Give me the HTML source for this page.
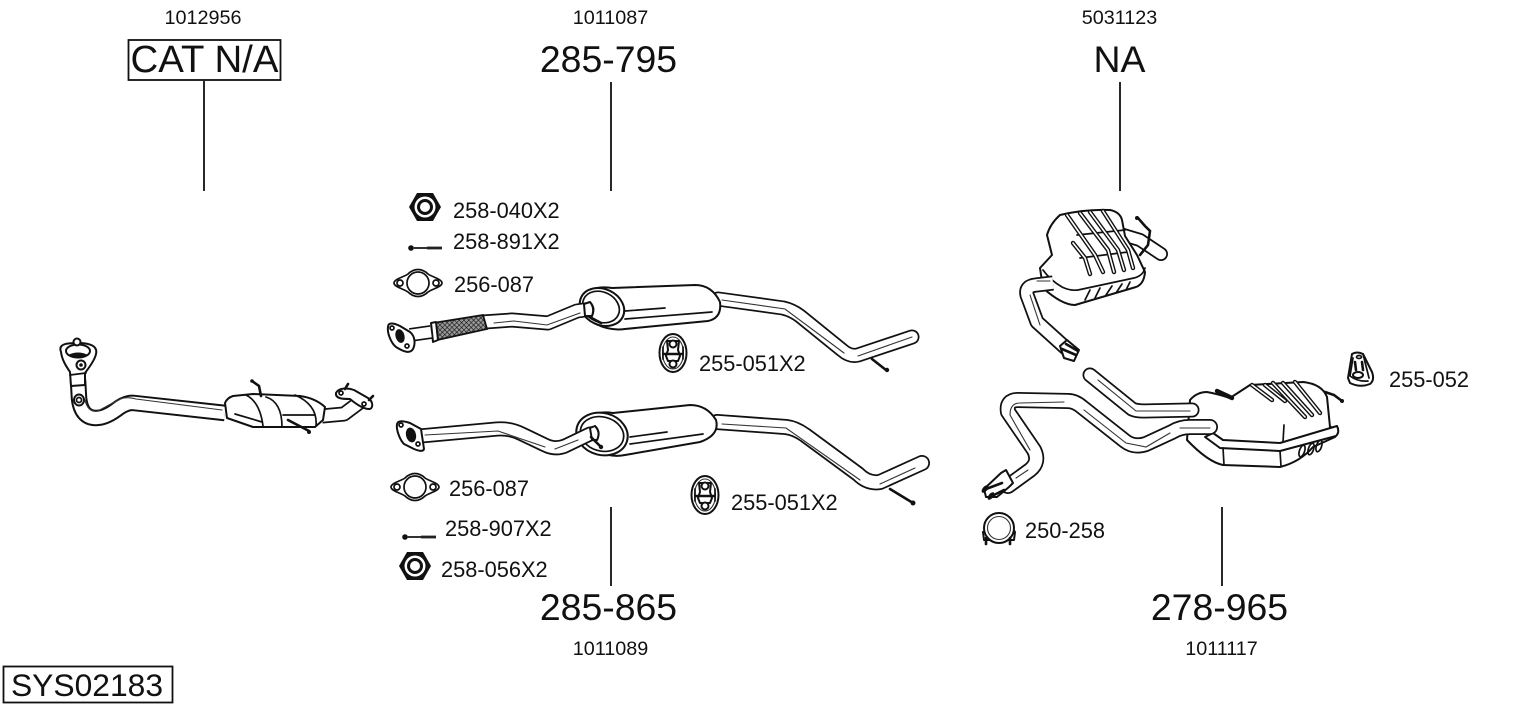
<!DOCTYPE html>
<html><head><meta charset="utf-8"><style>
html,body{margin:0;padding:0;background:#fff;width:1530px;height:711px;overflow:hidden}
svg{display:block}
text{font-family:"Liberation Sans",Arial,sans-serif;fill:#111}
.s{font-size:19.8px}.m{font-size:21.8px}.b{font-size:37.4px}
.o{fill:#fff;stroke:#111;stroke-width:2;stroke-linejoin:round;stroke-linecap:round}
.n{fill:none;stroke:#111;stroke-width:1.7;stroke-linejoin:round;stroke-linecap:round}
.t{fill:none;stroke:#333;stroke-width:1.1;stroke-linecap:round}
.k{fill:none;stroke:#111;stroke-width:2.6;stroke-linecap:round}
.d{fill:#111;stroke:none}
.r1{fill:none;stroke:#111;stroke-width:4.4;stroke-linecap:round;stroke-linejoin:round}
.r2{fill:none;stroke:#fff;stroke-width:1.6;stroke-linecap:round;stroke-linejoin:round}
.p1{fill:none;stroke:#111;stroke-linejoin:round;stroke-linecap:butt}
.p2{fill:none;stroke:#fff;stroke-linejoin:round;stroke-linecap:butt}
.rc{stroke-linecap:round}
</style></head><body>
<svg width="1530" height="711" viewBox="0 0 1530 711" xmlns="http://www.w3.org/2000/svg">
<defs>
<pattern id="br" width="3.4" height="3.4" patternUnits="userSpaceOnUse" patternTransform="rotate(45)"><rect width="3.4" height="3.4" fill="#999"/><path d="M0 0H3.4M0 0V3.4" stroke="#111" stroke-width="1.2"/></pattern>
<g id="nut"><path class="d" d="M-16 0L-8-14H8L16 0L8 14H-8Z"/><circle r="10.5" fill="#fff"/><circle r="8" fill="#111"/><circle r="5" fill="#fff"/></g>
<g id="gasket"><path class="n" d="M-24 0C-24-4-14-6-10-9C-4-15 4-15 10-9C14-6 24-4 24 0C24 4 14 6 10 9C4 15-4 15-10 9C-14 6-24 4-24 0Z"/><circle r="11" class="n"/><circle cx="-18" r="3" class="n"/><circle cx="18" r="3" class="n"/></g>
<g id="hanger"><ellipse rx="13.5" ry="19" class="o"/><ellipse rx="10.500" ry="16" class="t"/><path class="o" d="M-6-12L6-12L5-3L7 3L5 8H-5L-7 3L-5-3Z"/><circle cy="-9" r="3.500" class="o"/><circle cy="11" r="3.500" class="o"/><path class="k" d="M-9 1H9"/><path class="n" d="M-10-6V6M10-6V6"/></g>
<g id="bolt"><circle r="2.800" class="d"/><path d="M2 0H28" stroke="#333" stroke-width="2"/><path d="M16 0H31" stroke="#222" stroke-width="2.800"/></g>
</defs>

<text class="s" x="203" y="24" text-anchor="middle">1012956</text>
<text class="s" x="610.500" y="24" text-anchor="middle">1011087</text>
<text class="s" x="1119.500" y="24" text-anchor="middle">5031123</text>
<rect x="128.500" y="40" width="152" height="40" fill="#fff" stroke="#111" stroke-width="1.800"/>
<text x="204.500" y="72" text-anchor="middle" style="font-size:38.400px">CAT N/A</text>
<text class="b" x="608.500" y="72" text-anchor="middle">285-795</text>
<text class="b" x="1119.500" y="72" text-anchor="middle">NA</text>
<path d="M204 81V191M611 82V191M1120 82V191M611 507V586M1222 507V586" stroke="#111" stroke-width="1.800" fill="none"/>

<text class="b" x="608.500" y="620" text-anchor="middle">285-865</text>
<text class="b" x="1219.500" y="620" text-anchor="middle">278-965</text>
<text class="s" x="610.500" y="655" text-anchor="middle">1011089</text>
<text class="s" x="1221.500" y="655" text-anchor="middle">1011117</text>
<rect x="3.500" y="666.500" width="169" height="36" fill="#fff" stroke="#111" stroke-width="1.800"/>
<text x="87" y="696" text-anchor="middle" style="font-size:31.800px">SYS02183</text>

<text class="m" x="453" y="218">258-040X2</text>
<text class="m" x="453" y="249">258-891X2</text>
<text class="m" x="454" y="292">256-087</text>
<text class="m" x="699" y="371">255-051X2</text>
<text class="m" x="449" y="496">256-087</text>
<text class="m" x="445" y="536">258-907X2</text>
<text class="m" x="441" y="577">258-056X2</text>
<text class="m" x="731" y="510">255-051X2</text>
<text class="m" x="1025" y="538">250-258</text>
<text class="m" x="1389" y="387">255-052</text>

<use href="#nut" x="425" y="207"/>
<use href="#bolt" x="411" y="248"/>
<use href="#gasket" x="418" y="283"/>
<use href="#hanger" x="673" y="353"/>
<use href="#gasket" x="415" y="487"/>
<use href="#bolt" x="405" y="537"/>
<use href="#nut" x="415" y="566"/>
<use href="#hanger" x="705" y="495"/>

<!-- catalyst assembly -->
<path class="p1" stroke-width="16.500" d="M78 380L79 398Q81 418 96 418Q105 418 116 410Q126 402 134 403L225 413"/>
<path class="p2" stroke-width="12.500" d="M78 380L79 398Q81 418 96 418Q105 418 116 410Q126 402 134 403L225 413"/>
<path class="t" d="M85 400Q88 413 98 411L118 400Q126 396 136 399L222 410"/>
<path class="o" d="M61 352C58 344 66 343 78 343C90 343 98 346 96 354C95 360 88 369 85 373L85 385L71 386L70 372C66 366 62 360 61 352Z"/>
<ellipse cx="78" cy="351" rx="12" ry="6.500" class="o"/>
<path class="d" d="M68 355Q78 350 88 355Q78 359 68 355Z"/>
<circle cx="81" cy="365" r="4.500" class="o"/><circle cx="81" cy="365" r="1.800" class="d"/>
<path class="n" d="M70 375L86 373"/>
<circle cx="77" cy="342" r="3.500" class="o"/>
<ellipse cx="79" cy="400" rx="5" ry="5.500" class="o"/><circle cx="79" cy="400" r="2.500" class="n"/>
<path class="p1" stroke-width="15" d="M322 416L344 414L360 402"/>
<path class="p2" stroke-width="11.500" d="M322 416L344 414L360 402"/>
<path class="o" d="M336 393C339 387 349 388 354 390L368 398C374 402 373 409 369 409C363 409 356 404 350 399C344 399 335 399 336 393Z"/>
<circle cx="341" cy="393" r="2" class="n"/><circle cx="364" cy="404" r="2" class="n"/>
<path class="k" d="M345 389L348 384M369 400L373 396"/>
<path class="o" d="M225 403Q227 398 233 396L253 394L300 396Q315 398 325 407L323 420L315 427L253 427L227 418Z" stroke-width="2.200"/>
<path class="n" d="M246 395Q260 402 263 426M266 397Q282 402 282 427M295 395Q318 405 316 426M235 414L262 422M283 415H315" stroke-width="1.800"/>
<path class="k" d="M288 420L309 431" stroke-width="1.800"/><circle cx="309" cy="432" r="2" class="d"/>
<path class="k" d="M252 381L259 386L261 396" stroke-width="1.800"/><circle cx="252" cy="381" r="1.800" class="d"/>

<!-- 285-795 -->
<path class="p1 rc" stroke-width="15" d="M718 299L783 308Q792 310 800 316L842 350Q850 357 858 355L912 337"/>
<path class="p2 rc" stroke-width="11.500" d="M718 299L783 308Q792 310 800 316L842 350Q850 357 858 355L912 337"/>
<path class="t" d="M722 300L785 309L844 353M858 356L912 337"/>
<path class="k" d="M872 359L886 370" stroke-width="1.800"/><circle cx="887" cy="370" r="2.200" class="d"/>
<path class="o" d="M590 290Q600 286 612 288L695 285Q712 285 720 302Q722 318 708 321L625 329Q610 331 596 324Z" stroke-width="2.200"/>
<path class="n" d="M625 311L665 308M625 319L712 312"/>
<ellipse cx="602" cy="307" rx="23" ry="18" transform="rotate(25 602 307)" class="o" stroke-width="2.400"/>
<ellipse cx="601" cy="307" rx="19" ry="15" transform="rotate(25 601 307)" class="n"/>
<path class="k" d="M586 315L601 323" stroke-width="2.200"/>
<path class="p1" stroke-width="15" d="M484 322L512 320L548 323L577 311L592 309"/>
<path class="p2" stroke-width="11.500" d="M484 322L512 320L548 323L577 311L592 309"/>
<path class="t" d="M494 323L514 321L547 325L580 313"/>
<path class="o" d="M590 302Q595 308 592 316L585 316L584 304Z" stroke="none"/>
<path class="n" d="M590 302Q596 308 592 316"/>
<path d="M433 323L483 315L487 329L437 340Z" fill="url(#br)" stroke="#111" stroke-width="1.800"/>
<path class="o" d="M431 323L436 322L438 340L433 342Z"/>
<path class="p1" stroke-width="14" d="M410 335L431 332"/><path class="p2" stroke-width="10.500" d="M410 335L431 332"/>
<path class="o" d="M388 327C388 322 394 323 400 326L410 332C416 337 415 345 413 349C410 354 404 352 396 347C391 343 387 333 388 327Z" stroke-width="2.400"/>
<ellipse cx="400" cy="336" rx="4.500" ry="7" transform="rotate(-15 400 336)" fill="#111"/>
<circle cx="392" cy="328" r="2" class="n"/><circle cx="407" cy="346" r="2" class="n"/>

<!-- 285-865 -->
<path class="p1 rc" stroke-width="16" d="M717 422L786 427Q795 428 805 435L858 474Q868 484 880 482L922 463"/>
<path class="p2 rc" stroke-width="12.500" d="M717 422L786 427Q795 428 805 435L858 474Q868 484 880 482L922 463"/>
<path class="t" d="M722 424L786 428L860 480M880 484L915 468"/>
<path class="k" d="M890 489L913 503" stroke-width="1.800"/><circle cx="913" cy="503" r="2.500" class="d"/>
<path class="o" d="M590 416Q600 411 613 413L690 405Q707 405 716 420Q720 435 700 442L625 455Q610 458 596 450Z" stroke-width="2.200"/>
<path class="n" d="M630 437L667 432M630 444L703 434"/>
<ellipse cx="602" cy="434" rx="26" ry="21" transform="rotate(15 602 434)" class="o" stroke-width="2.400"/>
<ellipse cx="602" cy="434" rx="22" ry="17" transform="rotate(15 602 434)" class="n"/>
<path class="p1" stroke-width="15" d="M420 436L497 429Q510 428 522 434L545 445Q555 450 565 446L590 434L597 433"/>
<path class="p2" stroke-width="11.500" d="M420 436L497 429Q510 428 522 434L545 445Q555 450 565 446L590 434L597 433"/>
<path class="t" d="M425 435L498 431L545 447M555 449L578 440"/>
<path class="o" d="M595 426Q601 432 597 440L592 440L590 428Z" stroke="none"/>
<path class="n" d="M595 426Q601 432 597 440"/>
<path class="k" d="M591 437L601 447" stroke-width="1.800"/><circle cx="601" cy="447" r="2.200" class="d"/>
<path class="o" d="M397 424C398 420 404 421 410 423L421 429L424 449C423 452 419 451 414 449L404 444C400 440 396 430 397 424Z" stroke-width="2.400"/>
<ellipse cx="411" cy="435" rx="5" ry="7.500" transform="rotate(-12 411 435)" fill="#111"/>
<circle cx="401" cy="425" r="2" class="n"/><circle cx="418" cy="444" r="2" class="n"/>

<!-- rear muffler top -->
<path class="p1 rc" stroke-width="14" d="M1120 234L1140 240L1161 254"/>
<path class="p2 rc" stroke-width="10.500" d="M1120 234L1140 240L1161 254"/>
<path class="o" d="M1060 215Q1085 209 1110 210Q1120 212 1122 220L1125 236L1137 255L1145 272Q1144 284 1136 287L1075 305Q1062 305 1043 288L1040 268L1052 255L1047 235Q1050 224 1060 215Z"/>
<path class="n" d="M1043 270Q1050 280 1062 287Q1070 291 1078 290L1134 278Q1143 276 1145 268"/>
<path class="n" d="M1077 235L1125 230M1080 258L1128 252"/>
<path class="r1" d="M1067 215L1095 255L1103 272M1080 213L1108 250L1114 272M1090 212L1118 250L1124 270M1103 211L1128 250L1133 268M1073 243L1085 258L1090 274"/>
<path class="r2" d="M1067 215L1095 255L1103 272M1080 213L1108 250L1114 272M1090 212L1118 250L1124 270M1103 211L1128 250L1133 268M1073 243L1085 258L1090 274"/>
<path class="n" d="M1085 300L1090 290M1095 298L1100 288M1106 295L1112 286M1116 293L1122 284M1126 290L1130 282" stroke-width="2"/>
<path class="k" d="M1138 218L1145 226L1150 231L1148 245L1140 255" stroke-width="1.800"/><circle cx="1137" cy="218" r="2" class="d"/>
<path class="p1" stroke-width="15" d="M1053 283L1036 285Q1025 286 1027 295L1037 322L1068 350"/>
<path class="p2" stroke-width="11.500" d="M1053 283L1036 285Q1025 286 1027 295L1037 322L1068 350"/>
<path class="t" d="M1050 281L1037 281M1030 295L1040 325"/>
<path class="o" d="M1060 346L1067 340L1079 350L1074 361L1064 358Z"/>
<path class="k" d="M1062 349L1076 355M1066 344L1078 351" stroke-width="2"/>

<!-- rear lower assembly -->
<path class="o" d="M1190 400Q1197 392 1207 392Q1218 394 1230 398L1250 385L1303 382Q1322 384 1327 397L1330 427L1337 428L1335 437L1313 447Q1300 462 1280 467L1223 465Q1208 462 1187 440Z"/>
<path class="o" d="M1213 433L1223 440L1280 443L1337 426Q1340 432 1336 436L1280 451L1220 448L1205 437Z" stroke-width="1.800"/>
<path class="n" d="M1223 448L1224 465M1280 451L1281 466M1284 425L1283 442"/>
<path class="r1" d="M1252 385L1272 400M1265 385L1285 401M1273 383L1305 417M1283 383L1312 415M1295 382L1320 413"/>
<path class="r2" d="M1252 385L1272 400M1265 385L1285 401M1273 383L1305 417M1283 383L1312 415M1295 382L1320 413"/>
<path class="r1" d="M1217 391L1232 398"/>
<ellipse cx="1302" cy="451" rx="2.600" ry="6" transform="rotate(18 1302 451)" class="n" stroke-width="2.200"/>
<ellipse cx="1311" cy="449" rx="2.600" ry="6" transform="rotate(18 1311 449)" class="n" stroke-width="2.200"/>
<ellipse cx="1319" cy="446" rx="2.600" ry="6" transform="rotate(18 1319 446)" class="n" stroke-width="2.200"/>
<path class="k" d="M1325 392L1334 395L1342 401" stroke-width="1.800"/><circle cx="1342" cy="401" r="2" class="d"/>
<path class="p1 rc" stroke-width="15" d="M1090 375L1132 409Q1136 411 1144 411L1192 410"/>
<path class="p2 rc" stroke-width="11.500" d="M1090 375L1132 409Q1136 411 1144 411L1192 410"/>
<path class="t" d="M1098 380L1136 411L1190 411"/>
<path class="p1 rc" stroke-width="16" d="M1008 486L1030 470Q1040 462 1034 450L1008 412Q1006 400 1018 400L1068 401Q1075 401 1082 407L1125 441Q1134 448 1146 444L1172 432Q1180 427 1190 427L1210 427"/>
<path class="p2 rc" stroke-width="12.500" d="M1008 486L1030 470Q1040 462 1034 450L1008 412Q1006 400 1018 400L1068 401Q1075 401 1082 407L1125 441Q1134 448 1146 444L1172 432Q1180 427 1190 427L1210 427"/>
<path class="t" d="M1016 478L1028 470M1030 450L1010 415Q1010 403 1020 403L1064 402M1084 410L1126 443L1146 447L1170 433M1180 428H1210"/>
<path class="o" d="M1001 473L1006 470L1013 483L1009 487L997 497L986 497L984 489Z"/>
<path class="k" d="M986 489L1002 483M990 497L1004 490"/>
<ellipse cx="985" cy="489" rx="2.400" ry="4.500" transform="rotate(40 985 489)" class="d"/>
<ellipse cx="991" cy="496" rx="2.400" ry="4.500" transform="rotate(40 991 496)" class="d"/>

<!-- clamp 250-258 -->
<path class="o" d="M983 532L990 528H1012L1015 532L1014 540H984Z" stroke-width="1.600"/>
<circle cx="999" cy="528" r="15" class="o" stroke-width="1.800"/>
<circle cx="999" cy="528" r="11.500" class="t"/>
<path class="k" d="M986 538V544M1010 538V544"/>

<!-- hanger 255-052 -->
<path class="o" d="M1352 354Q1357 351 1363 354L1372 372Q1375 380 1370 384Q1360 388 1350 383L1348 378Z"/>
<path class="n" d="M1353 358L1350 376Q1358 382 1368 381M1363 354L1369 378"/>
<ellipse cx="1358" cy="375" rx="5" ry="3" class="o"/><ellipse cx="1359" cy="357" rx="2.500" ry="1.500" class="n"/>
<path class="k" d="M1355 362L1356 370M1362 362L1363 370" stroke-width="1.800"/>
</svg>
</body></html>
